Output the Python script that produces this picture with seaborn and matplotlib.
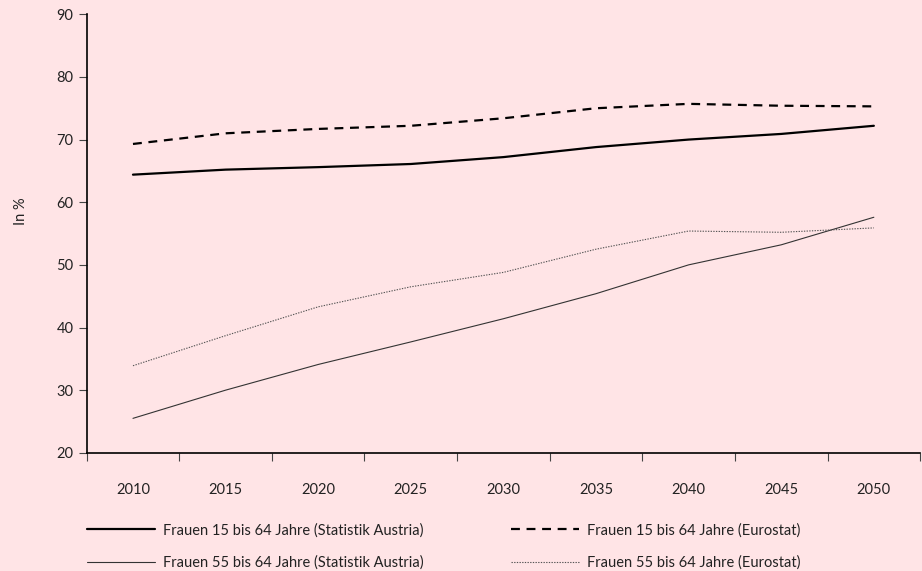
import seaborn as sns
import matplotlib.pyplot as plt
import pandas as pd

years = [2010, 2015, 2020, 2025, 2030, 2035, 2040, 2045, 2050]
sa_15_64 = [64.4, 65.2, 65.6, 66.1, 67.2, 68.8, 70.0, 70.9, 72.2]
eu_15_64 = [69.3, 71.0, 71.7, 72.2, 73.4, 75.0, 75.7, 75.4, 75.3]
sa_55_64 = [25.5, 30.0, 34.1, 37.7, 41.4, 45.4, 50.0, 53.2, 57.6]
eu_55_64 = [33.9, 38.7, 43.3, 46.5, 48.8, 52.5, 55.4, 55.2, 55.9]

labels = ["Frauen 15 bis 64 Jahre (Statistik Austria)",
          "Frauen 55 bis 64 Jahre (Statistik Austria)",
          "Frauen 15 bis 64 Jahre (Eurostat)",
          "Frauen 55 bis 64 Jahre (Eurostat)"]

bg = "#FFE4E6"
sns.set_style("ticks", {"axes.facecolor": bg, "figure.facecolor": bg})
plt.rcParams['font.family'] = ['Lato', 'DejaVu Sans']

fig = plt.figure(figsize=(9.22, 5.71), dpi=100)
ax = fig.add_axes([0.094, 0.207, 0.904, 0.768])

series = [sa_15_64, sa_55_64, eu_15_64, eu_55_64]
styles = [dict(color="black", linewidth=1.6, linestyle="-"),
          dict(color="#333333", linewidth=0.8, linestyle="-"),
          dict(color="black", linewidth=1.6, linestyle=(0, (4, 3))),
          dict(color="#555555", linewidth=0.8, linestyle=(0, (1.2, 1.2)))]
for vals, lab, st in zip(series, labels, styles):
    df = pd.DataFrame({"Jahr": years, "Wert": vals})
    sns.lineplot(data=df, x="Jahr", y="Wert", ax=ax, label=lab, **st)

ax.set_xlim(2007.5, 2052.5)
ax.set_ylim(20, 90)
ax.set_xticks(years)
ax.set_xticks([2007.5 + 5 * i for i in range(10)], minor=True)
ax.tick_params(axis="x", which="major", length=0, pad=22, labelsize=10.5, colors="#222222")
ax.tick_params(axis="x", which="minor", length=6, width=0.8, color="#444444")
ax.tick_params(axis="y", length=6, width=0.8, labelsize=10.5, colors="#222222", color="#444444")
ax.set_yticks(range(20, 91, 10))
ax.set_xlabel("")
ax.set_ylabel("In %", fontsize=10.5, color="#222222")
ax.yaxis.set_label_coords(-0.07, 0.55)
for s in ["top", "right"]:
    ax.spines[s].set_visible(False)
for s in ["left", "bottom"]:
    ax.spines[s].set_linewidth(1.2)
    ax.spines[s].set_color("black")

handles, labs = ax.get_legend_handles_labels()
ax.get_legend().remove()
fig.legend(handles, labs, ncol=2, loc="lower left", bbox_to_anchor=(0.08, -0.021),
           frameon=False, fontsize=10.5, handlelength=4.7, handletextpad=0.5,
           columnspacing=6.0, labelspacing=1.25, labelcolor="#222222")

fig.savefig("out.png", dpi=100, facecolor=bg)
